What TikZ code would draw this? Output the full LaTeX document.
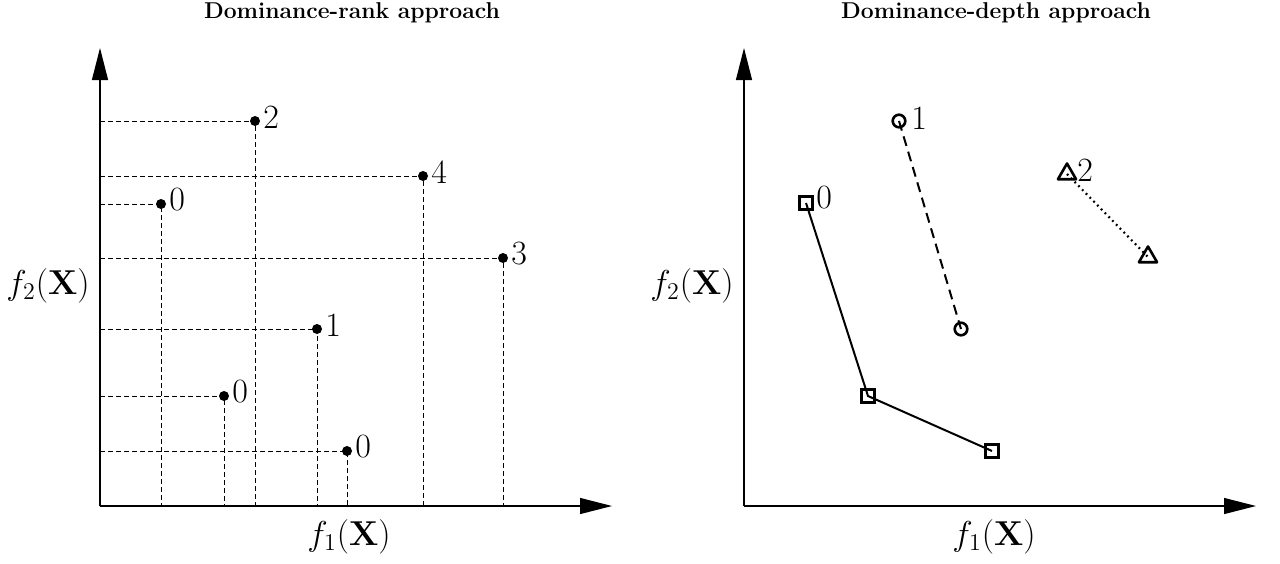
\documentclass[tikz,border=0pt]{standalone}
\usepackage{amsmath,bm}
\usepackage{tikz}
\usetikzlibrary{arrows.meta,shapes.geometric}

\begin{document}
\begin{tikzpicture}[x=0.5pt,y=0.5pt,yscale=-1,xscale=1,
  axis/.style={line width=0.6pt,-{Triangle[length=16pt,width=8pt]}},
  proj/.style={line width=0.5pt,dash pattern=on 2.5pt off 1.5pt},
  rankdot/.style={circle,fill=black,inner sep=0pt,minimum size=5pt},
  sqmark/.style={rectangle,draw,line width=1.3pt,inner sep=0pt,minimum size=6.3pt},
  cmark/.style={circle,draw,line width=1.3pt,inner sep=0pt,minimum size=6.3pt},
  trimark/.style={regular polygon,regular polygon sides=3,draw,line width=1.3pt,line join=round,inner sep=0pt,minimum size=10.5pt},
  numlbl/.style={anchor=west,inner sep=0pt,font=\fontsize{17}{19}\selectfont},
  axlbl/.style={inner sep=0pt,font=\fontsize{16.5}{19}\selectfont},
  ttl/.style={anchor=base,inner sep=0pt,font=\fontsize{11.45}{13}\selectfont\bfseries}]
\useasboundingbox (0,0) rectangle (1280,563);

% Titles
\node[ttl] (ttlrank) at (352,18) {Dominance-rank approach};
\node[ttl] (ttldepth) at (996,18) {Dominance-depth approach};

%Left axes
\coordinate (oL) at (100,506);
\coordinate (yL) at (100,48);
\coordinate (xL) at (612,506);

%Left points
\coordinate (r1) at (255,121);
\coordinate (r2) at (423,176);
\coordinate (r3) at (161,204);
\coordinate (r4) at (503,258);
\coordinate (r5) at (317,329);
\coordinate (r6) at (224,396);
\coordinate (r7) at (347,451);

%Dashed projections
\draw[proj] (r1 -| oL) -- (r1) -- (r1 |- oL);
\draw[proj] (r2 -| oL) -- (r2) -- (r2 |- oL);
\draw[proj] (r3 -| oL) -- (r3) -- (r3 |- oL);
\draw[proj] (r4 -| oL) -- (r4) -- (r4 |- oL);
\draw[proj] (r5 -| oL) -- (r5) -- (r5 |- oL);
\draw[proj] (r6 -| oL) -- (r6) -- (r6 |- oL);
\draw[proj] (r7 -| oL) -- (r7) -- (r7 |- oL);

\draw[axis] (oL) -- (yL);
\draw[axis] (oL) -- (xL);

\node[rankdot] (d1) at (r1) {};
\node[rankdot] (d2) at (r2) {};
\node[rankdot] (d3) at (r3) {};
\node[rankdot] (d4) at (r4) {};
\node[rankdot] (d5) at (r5) {};
\node[rankdot] (d6) at (r6) {};
\node[rankdot] (d7) at (r7) {};

% Text Node
\node[numlbl] (n1) at (263,117) {2};
\node[numlbl] (n2) at (431,172) {4};
\node[numlbl] (n3) at (169,200) {0};
\node[numlbl] (n4) at (511,254) {3};
\node[numlbl] (n5) at (325,325) {1};
\node[numlbl] (n6) at (232,392) {0};
\node[numlbl] (n7) at (355,447) {0};

\node[axlbl] (fxL) at (349,537) {$f_1\mathbf{(X)}$};
\node[axlbl] (fyL) at (48,286) {$f_2\mathbf{(X)}$};

%Right axes
\coordinate (oR) at (744,506);
\coordinate (yR) at (744,48);
\coordinate (xR) at (1256,506);
\draw[axis] (oR) -- (yR);
\draw[axis] (oR) -- (xR);

%Front 0
\node[sqmark] (s1) at (806,203) {};
\node[sqmark] (s2) at (868,396) {};
\node[sqmark] (s3) at (992,451) {};
\draw[line width=1pt] (s1.center) -- (s2.center) -- (s3.center);

%Front 1
\node[cmark] (c1) at (899,121) {};
\node[cmark] (c2) at (961,329) {};
\draw[line width=1pt,dash pattern=on 5pt off 3pt] (c1.center) -- (c2.center);

%Front 2
\node[trimark] (t1) at (1067,174) {};
\node[trimark] (t2) at (1148,257) {};
\draw[line width=1.1pt,dash pattern=on 0.9pt off 1.8pt] (t1.center) -- (t2.center);

% Text Node
\node[numlbl] (m1) at (816,198) {0};
\node[numlbl] (m2) at (911,118) {1};
\node[numlbl] (m3) at (1077,170) {2};

\node[axlbl] (fxR) at (994,537) {$f_1\mathbf{(X)}$};
\node[axlbl] (fyR) at (692,286) {$f_2\mathbf{(X)}$};
\end{tikzpicture}
\end{document}
